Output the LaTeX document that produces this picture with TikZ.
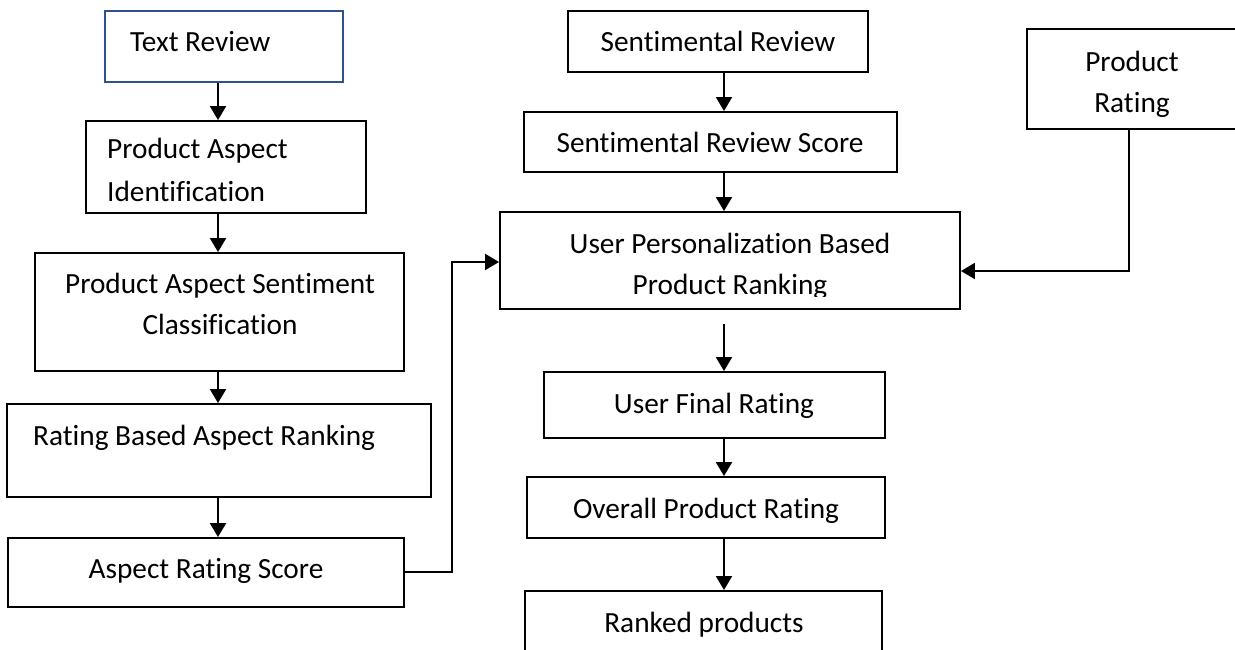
\documentclass[tikz,border=0pt]{standalone}
\usepackage{fontspec}
\setmainfont{Carlito}[Ligatures=NoCommon]
\usetikzlibrary{arrows.meta}
\definecolor{outlineblue}{RGB}{47,82,143}
\tikzset{
  box/.style={draw=black, line width=1.9pt, fill=white, rectangle, inner sep=0pt},
  bluebox/.style={box, draw=outlineblue},
  lbl/.style={inner sep=0pt, font=\fontsize{29.3}{41}\selectfont},
  arr/.style={line width=2pt, -{Triangle[length=14pt,width=16pt]}},
}
\begin{document}
\begin{tikzpicture}[x=1pt, y=-1pt]
\useasboundingbox (0,0) rectangle (1235,650);

% left column: aspect-based pipeline
\node[bluebox, minimum width=238pt, minimum height=71pt] (tr) at (224,46.5) {};
\node[lbl, anchor=base west] (trT) at (130,52) {Text Review};

\node[box, minimum width=280pt, minimum height=92pt] (pai) at (226,167) {};
\node[lbl, anchor=base west] (paiA) at (107,159) {Product Aspect};
\node[lbl, anchor=base west] (paiB) at (107,201) {Identification};

\node[box, minimum width=369pt, minimum height=118pt] (pasc) at (219.5,312) {};
\node[lbl, anchor=base] (pascA) at (220,293) {Product Aspect Sentiment};
\node[lbl, anchor=base] (pascB) at (220,334) {Classification};

\node[box, minimum width=424pt, minimum height=93pt] (rbar) at (219,450.5) {};
\node[lbl, anchor=base west] (rbarT) at (33,445) {Rating Based Aspect Ranking};

\node[box, minimum width=396pt, minimum height=69pt] (ars) at (206,572.5) {};
\node[lbl, anchor=base] (arsT) at (206,578) {Aspect Rating Score};

% middle column: sentiment and ranking
\node[box, minimum width=300pt, minimum height=61pt] (sr) at (718,41.5) {};
\node[lbl, anchor=base] (srT) at (718,52) {Sentimental Review};

\node[box, minimum width=373pt, minimum height=60pt] (srs) at (710.5,142) {};
\node[lbl, anchor=base] (srsT) at (710,153) {Sentimental Review Score};

\node[box, minimum width=460pt, minimum height=97pt] (up) at (730,260.5) {};
\node[lbl, anchor=base] (upA) at (730,253) {User Personalization Based};
\begin{scope}
  \clip (500,212) rectangle (960,296);
  \node[lbl, anchor=base] (upB) at (730,294) {Product Ranking};
\end{scope}

\node[box, minimum width=341pt, minimum height=66pt] (ufr) at (714.5,405) {};
\node[lbl, anchor=base] (ufrT) at (714,413) {User Final Rating};

\node[box, minimum width=358pt, minimum height=61pt] (opr) at (706,507.5) {};
\node[lbl, anchor=base] (oprT) at (706,518) {Overall Product Rating};

\node[box, minimum width=357pt, minimum height=79pt] (rp) at (703.5,630.5) {};
\node[lbl, anchor=base] (rpT) at (704,632) {Ranked products};

% right: product rating
\node[box, minimum width=218pt, minimum height=100pt] (pr) at (1136,79) {};
\node[lbl, anchor=base] (prA) at (1132,72) {Product};
\node[lbl, anchor=base] (prB) at (1132,113) {Rating};

% guide coordinates for the connector columns
\coordinate (c1) at (218,0);
\coordinate (c2) at (724,0);
\coordinate (upout) at (724,324);
\coordinate (lbend) at (452,262);
\coordinate (rbend) at (1129,271);

% left column flow
\draw[arr] (tr.south -| c1) -- (pai.north -| c1);
\draw[arr] (pai.south -| c1) -- (pasc.north -| c1);
\draw[arr] (pasc.south -| c1) -- (rbar.north -| c1);
\draw[arr] (rbar.south -| c1) -- (ars.north -| c1);

% middle column flow
\draw[arr] (sr.south -| c2) -- (srs.north -| c2);
\draw[arr] (srs.south -| c2) -- (up.north -| c2);
\draw[arr] (upout) -- (ufr.north -| c2);
\draw[arr] (ufr.south -| c2) -- (opr.north -| c2);
\draw[arr] (opr.south -| c2) -- (rp.north -| c2);

% feeds into the personalization step
\draw[arr] (ars.east |- 0,572) -| (lbend) -- (up.west |- lbend);
\draw[arr] (pr.south -| rbend) -- (rbend) -- (up.east |- rbend);
\end{tikzpicture}
\end{document}
